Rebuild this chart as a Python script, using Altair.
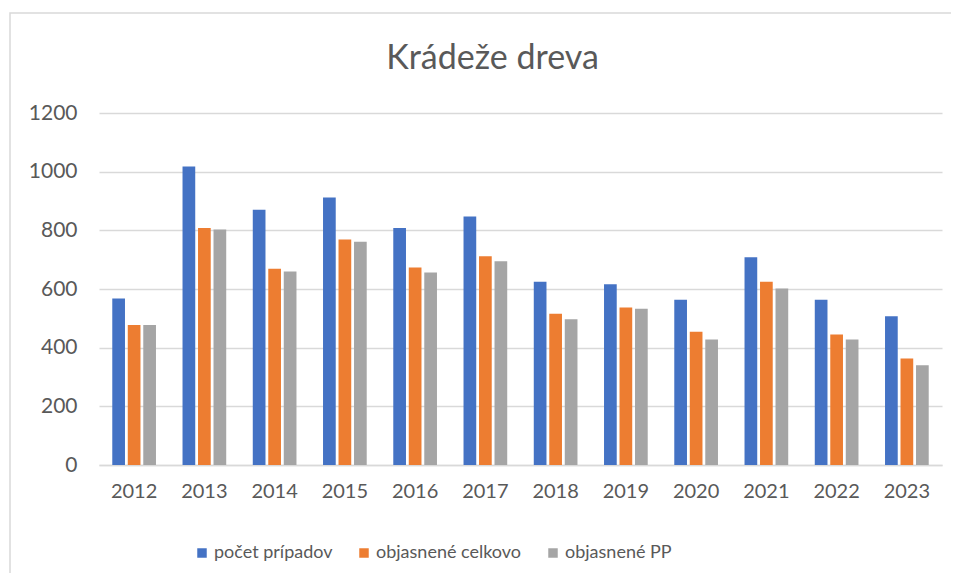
import altair as alt
import pandas as pd

years = ["2012", "2013", "2014", "2015", "2016", "2017", "2018", "2019", "2020", "2021", "2022", "2023"]
pocet_pripadov = [568, 1018, 870, 912, 808, 847, 625, 616, 563, 708, 563, 507]
objasnene_celkovo = [477, 808, 669, 769, 673, 712, 516, 537, 454, 625, 445, 363]
objasnene_pp = [477, 803, 660, 761, 656, 695, 497, 533, 428, 602, 428, 340]

series = ["počet prípadov", "objasnené celkovo", "objasnené PP"]
colors = ["#4472C4", "#ED7D31", "#A5A5A5"]

rows = []
for i, y in enumerate(years):
    for name, vals in zip(series, [pocet_pripadov, objasnene_celkovo, objasnene_pp]):
        rows.append({"rok": y, "séria": name, "hodnota": vals[i]})
df = pd.DataFrame(rows)

FONT = "Lato"
TXT = "#595959"
GRID = "#D9D9D9"

bars = alt.Chart(df).mark_bar().encode(
    x=alt.X("rok:N", sort=years, title=None,
            scale=alt.Scale(paddingInner=0.378, paddingOuter=0.189),
            axis=alt.Axis(labelAngle=0, labelFont=FONT, labelFontSize=20, labelColor=TXT,
                          labelPadding=16, ticks=False, domain=True, domainColor=GRID,
                          domainWidth=1.5, grid=False)),
    xOffset=alt.XOffset("séria:N", sort=series,
                        scale=alt.Scale(paddingInner=0.18, paddingOuter=0)),
    y=alt.Y("hodnota:Q", title=None,
            scale=alt.Scale(domain=[0, 1200], nice=False),
            axis=alt.Axis(values=[0, 200, 400, 600, 800, 1000, 1200], format="d",
                          labelFont=FONT, labelFontSize=21, labelColor=TXT,
                          labelPadding=22, ticks=False, domain=False,
                          grid=True, gridColor=GRID, gridWidth=1.5)),
    color=alt.Color("séria:N", sort=series,
                    scale=alt.Scale(domain=series, range=colors),
                    legend=alt.Legend(title=None, orient="none", direction="horizontal",
                                      legendX=94, legendY=431, symbolType="square",
                                      symbolSize=90, symbolStrokeWidth=0,
                                      labelFont=FONT, labelFontSize=18, labelColor=TXT,
                                      labelOffset=3, columnPadding=22, padding=0)),
)

border = alt.Chart(pd.DataFrame({"a": [0]})).mark_rect(
    fill="transparent", stroke=GRID, strokeWidth=1.5
).encode(
    x=alt.value(-89), x2=alt.value(900), y=alt.value(-100), y2=alt.value(500)
)

chart = alt.layer(border, bars).properties(
    width=843,
    height=352,
    autosize=alt.AutoSizeParams(type="none"),
    padding={"left": 91, "top": 105, "right": 9, "bottom": 108},
    title=alt.TitleParams("Krádeže dreva", font=FONT, fontSize=34, fontWeight="normal",
                          color=TXT, anchor="middle", dx=-28, dy=136, offset=45,
                          baseline="alphabetic"),
).configure_view(stroke=None)

chart.save("out.html", embed_options={"renderer": "svg", "actions": False})
